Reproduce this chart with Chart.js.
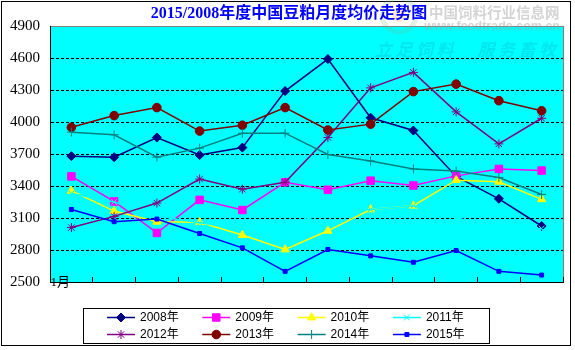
<!DOCTYPE html>
<html lang="zh">
<head>
<meta charset="utf-8">
<title>2015/2008年度中国豆粕月度均价走势图</title>
<script src="https://cdn.jsdelivr.net/npm/chart.js@4.4.0/dist/chart.umd.min.js"></script>
<style>
  html, body { margin: 0; padding: 0; background: #fff; }
  #wrap { width: 575px; height: 350px; }
</style>
</head>
<body>
<div id="wrap"><canvas id="chart" width="575" height="350"></canvas></div>
<script>
// Datos (precio medio mensual, 元/吨)
const months = ['1月', '', '', '', '', '', '', '', '', '', '', ''];
const yearLabels = ['2008年', '2009年', '2010年', '2011年', '2012年', '2013年', '2014年', '2015年'];
const yMin = 2500;
const yMax = 4900;
const yStep = 300;

const price2008 = [3680, 3670, 3855, 3690, 3760, 4290, 4590, 4040, 3920, 3490, 3280, 3025];
const price2009 = [3490, 3255, 2960, 3270, 3175, 3435, 3365, 3450, 3405, 3495, 3560, 3545];
const price2010 = [3355, 3165, 3065, 3060, 2940, 2805, 2980, 3180, 3215, 3455, 3440, 3275];
const price2011 = [3330, 3250, 3120, 3055, 3000, 3030, 3150, 3180, 3215, 3100, 3020, 3000];
const price2012 = [3010, 3115, 3240, 3465, 3370, 3435, 3855, 4320, 4465, 4095, 3795, 4035];
const price2013 = [3950, 4060, 4135, 3915, 3970, 4135, 3925, 3980, 4285, 4355, 4200, 4105];
const price2014 = [3905, 3880, 3670, 3755, 3895, 3895, 3695, 3635, 3560, 3540, 3480, 3320];
const price2015 = [3180, 3065, 3090, 2955, 2820, 2600, 2805, 2745, 2685, 2795, 2600, 2565];

const seriesData = [price2008, price2009, price2010, price2011, price2012, price2013, price2014, price2015];

// Estilos de cada serie
const seriesColors = ['#000080', '#FF00FF', '#FFFF00', '#00FFFF', '#800080', '#800000', '#008080', '#0000FF'];
const seriesPoints = ['rectRot', 'rect', 'triangle', 'crossRot', 'star', 'circle', 'cross', 'rect'];
const seriesRadius = [4.5, 5.3, 4.8, 4, 4.5, 4.3, 4.5, 2.8];

const serifFont = '"Liberation Serif", "Noto Sans CJK SC", serif';
const sansFont = '"Liberation Sans", "Noto Sans CJK SC", sans-serif';

document.addEventListener('DOMContentLoaded', function() {
    createPriceChart();
});

function drawMarker(ctx, i, x, y) {
    ctx.fillStyle = seriesColors[i];
    ctx.strokeStyle = seriesColors[i];
    ctx.lineWidth = 1;
    if (Chart.helpers && Chart.helpers.drawPoint) {
        Chart.helpers.drawPoint(ctx, {
            pointStyle: seriesPoints[i],
            radius: seriesRadius[i],
            rotation: 0,
            borderWidth: 1
        }, x, y);
    } else {
        ctx.beginPath();
        ctx.arc(x, y, seriesRadius[i], 0, Math.PI * 2);
        ctx.fill();
    }
}

const decorations = {
    id: 'decorations',
    beforeDraw(chart) {
        const { ctx, chartArea: a } = chart;
        ctx.save();
        ctx.fillStyle = '#FFFFFF';
        ctx.fillRect(0, 0, chart.width, chart.height);

        // Marco exterior
        ctx.strokeStyle = '#000';
        ctx.lineWidth = 1;
        ctx.strokeRect(1.5, 1.5, 569, 344);

        // Fondo del área de trazado
        ctx.fillStyle = '#00FFFF';
        ctx.fillRect(a.left, a.top, a.right - a.left, a.bottom - a.top);
        ctx.strokeStyle = '#808080';
        ctx.strokeRect(a.left + 0.5, a.top + 0.5, a.right - a.left, a.bottom - a.top);
        ctx.restore();
    },
    beforeDatasetsDraw(chart) {
        const ctx = chart.ctx;
        ctx.save();
        // Lema de marca de agua
        ctx.font = 'italic bold 17px "Noto Sans CJK SC"';
        ctx.fillStyle = 'rgba(0, 110, 150, 0.16)';
        ctx.textBaseline = 'middle';
        const slogan = ['立', '足', '饲', '料', '', '服', '务', '畜', '牧'];
        slogan.forEach((ch, k) => {
            if (ch) ctx.fillText(ch, 375 + k * 20.5, 50);
        });

        // Etiqueta del eje X (se dibuja sobre la línea del eje, como en el original)
        const xScale = chart.scales.x;
        ctx.font = '13px ' + serifFont;
        ctx.fillStyle = '#000';
        ctx.textAlign = 'center';
        months.forEach((m, k) => {
            if (m) ctx.fillText(m, xScale.getPixelForValue(k) - 11, xScale.top + 0.5);
        });
        ctx.restore();
    },
    afterDraw(chart) {
        const ctx = chart.ctx;
        ctx.save();

        // Logo de la web (marca de agua)
        ctx.strokeStyle = 'rgba(120, 180, 140, 0.22)';
        ctx.lineWidth = 5;
        ctx.beginPath();
        ctx.arc(399, 15, 17, 0, Math.PI * 2);
        ctx.stroke();
        ctx.fillStyle = 'rgba(255, 190, 110, 0.3)';
        ctx.beginPath();
        ctx.arc(399, 15, 7, 0, Math.PI * 2);
        ctx.fill();

        ctx.textBaseline = 'middle';
        ctx.textAlign = 'left';
        ctx.fillStyle = 'rgba(160, 160, 160, 0.45)';
        ctx.font = 'bold 14.5px "Noto Sans CJK SC"';
        ctx.fillText('中国饲料行业信息网', 429, 12);
        ctx.textAlign = 'right';
        ctx.font = 'bold 12.5px "Liberation Sans"';
        ctx.fillText('www.feedtrade.com.cn', 560, 27);

        // Título
        ctx.textAlign = 'center';
        ctx.fillStyle = '#0000FF';
        ctx.font = 'bold 16px ' + serifFont;
        ctx.fillText('2015/2008年度中国豆粕月度均价走势图', 289, 14);

        // Leyenda
        ctx.fillStyle = '#FFFFFF';
        ctx.fillRect(83, 308, 406, 35);
        ctx.strokeStyle = '#000';
        ctx.lineWidth = 1;
        ctx.strokeRect(83.5, 308.5, 406, 35);
        ctx.font = '12px ' + sansFont;
        ctx.textAlign = 'left';
        yearLabels.forEach((label, i) => {
            const x0 = 107 + (i % 4) * 95.3;
            const y = 317.5 + Math.floor(i / 4) * 17;
            ctx.strokeStyle = seriesColors[i];
            ctx.lineWidth = 1.5;
            ctx.beginPath();
            ctx.moveTo(x0, y);
            ctx.lineTo(x0 + 28, y);
            ctx.stroke();
            drawMarker(ctx, i, x0 + 14, y);
            ctx.fillStyle = '#000';
            ctx.fillText(label, x0 + 33, y + 0.5);
        });
        ctx.restore();
    }
};

function createPriceChart() {
    const ctx = document.getElementById('chart').getContext('2d');

    const datasets = seriesData.map((values, i) => ({
        label: yearLabels[i],
        data: values,
        borderColor: seriesColors[i],
        backgroundColor: seriesColors[i],
        borderWidth: 1.5,
        pointStyle: seriesPoints[i],
        pointRadius: seriesRadius[i],
        pointBorderWidth: 1,
        pointBorderColor: seriesColors[i],
        pointBackgroundColor: seriesColors[i],
        tension: 0,
        fill: false,
        order: -i
    }));

    window.priceChart = new Chart(ctx, {
        type: 'line',
        data: {
            labels: months,
            datasets: datasets
        },
        options: {
            responsive: false,
            animation: false,
            devicePixelRatio: 1,
            layout: {
                padding: { left: 0, right: 12, top: 26, bottom: 48 }
            },
            scales: {
                x: {
                    offset: true,
                    afterFit: scale => { scale.height = 20; },
                    grid: {
                        display: true,
                        offset: true,
                        drawOnChartArea: false,
                        drawTicks: true,
                        tickLength: -5,
                        color: '#000',
                        tickColor: '#000'
                    },
                    border: { display: true, color: '#000', width: 1 },
                    ticks: {
                        display: false,
                        autoSkip: false,
                        maxRotation: 0
                    }
                },
                y: {
                    min: yMin,
                    max: yMax,
                    afterFit: scale => { scale.width = 50; },
                    grid: {
                        drawTicks: false,
                        color: c => (c.tick && (c.tick.value === yMin || c.tick.value === yMax)) ? 'rgba(0,0,0,0)' : '#000',
                        lineWidth: 1
                    },
                    border: { display: true, color: '#000', width: 1, dash: [3, 2] },
                    ticks: {
                        stepSize: yStep,
                        padding: 10,
                        color: '#000',
                        font: { family: serifFont, size: 15 },
                        callback: value => String(value)
                    }
                }
            },
            plugins: {
                legend: { display: false },
                title: { display: false },
                tooltip: { enabled: false }
            }
        },
        plugins: [decorations]
    });
}
</script>
</body>
</html>
